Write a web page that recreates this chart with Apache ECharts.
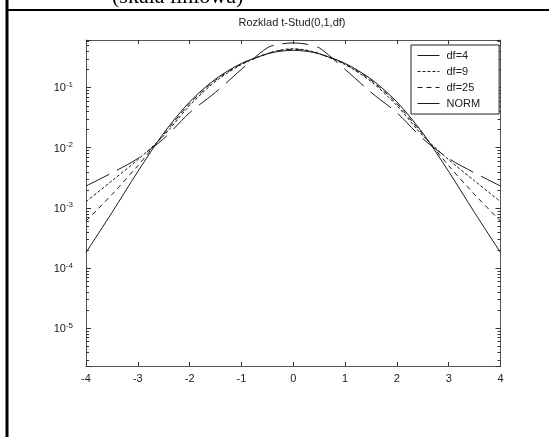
<!DOCTYPE html>
<html>
<head>
<meta charset="utf-8">
<script src="https://cdn.jsdelivr.net/npm/echarts@6/dist/echarts.min.js"></script>
<style>
  html, body { margin: 0; padding: 0; background: #fff; }
  #chart { width: 549px; height: 437px; }
</style>
</head>
<body>
<div id="chart"></div>
<script>
// punkty x
const xs = [-4, -3.5, -3, -2.5, -2, -1.5, -1, -0.5, -0.25, 0, 0.25, 0.5, 1, 1.5, 2, 2.5, 3, 3.5, 4]
const seriesNames = ['df=4', 'df=9', 'df=25', 'NORM']
const df4 = [0.0023, 0.0038, 0.0066, 0.0141, 0.038, 0.083, 0.20, 0.457, 0.525, 0.55, 0.525, 0.457, 0.20, 0.083, 0.038, 0.0141, 0.0066, 0.0038, 0.0023]
const df9 = [0.00126, 0.0028, 0.0063, 0.0158, 0.050, 0.126, 0.24, 0.365, 0.418, 0.44, 0.418, 0.365, 0.24, 0.126, 0.050, 0.0158, 0.0063, 0.0028, 0.00126]
const df25 = [0.0006, 0.00166, 0.0050, 0.0166, 0.0537, 0.132, 0.245, 0.365, 0.41, 0.43, 0.41, 0.365, 0.245, 0.132, 0.0537, 0.0166, 0.0050, 0.00166, 0.0006]
const norm = [0.00018, 0.00083, 0.0040, 0.0174, 0.0575, 0.138, 0.251, 0.362, 0.40, 0.415, 0.40, 0.362, 0.251, 0.138, 0.0575, 0.0174, 0.0040, 0.00083, 0.00018]

const xMin = -4, xMax = 4
const yMin = 2.34e-6, yMax = 0.615

const font = 'Liberation Sans, Arial, sans-serif'

// male kreski na osi log (2..9 * 10^k)
let minorTicks = []
for (let k = -6; k <= -1; k++) {
    for (let m = 2; m <= 9; m++) {
        let v = m * Math.pow(10, k)
        if (v > yMin && v < yMax) minorTicks.push(v)
    }
}

function lineSeries(name, values, dash) {
    return {
        name: name,
        type: 'line',
        data: xs.map((x, i) => [x, values[i]]),
        symbol: 'none',
        showSymbol: false,
        smooth: 0.3,
        lineStyle: { color: '#1a1a1a', width: 1, type: dash }
    }
}

function expLabel(v) {
    let e = Math.log10(v)
    let r = Math.round(e)
    if (Math.abs(e - r) > 1e-6) return ''
    return '{b|10}{s|' + r + '}'
}

let chart = echarts.init(document.getElementById('chart'))

let option = {
    animation: false,
    backgroundColor: '#fff',
    title: {
        text: 'Rozklad t-Stud(0,1,df)',
        left: 292,
        top: 17,
        padding: 0,
        textAlign: 'center',
        textStyle: { fontSize: 11, fontWeight: 'normal', color: '#222', fontFamily: font }
    },
    graphic: [
        { type: 'line', shape: { x1: 7, y1: 0, x2: 7, y2: 437 }, style: { stroke: '#000', lineWidth: 3 } },
        { type: 'line', shape: { x1: 6, y1: 10, x2: 549, y2: 10 }, style: { stroke: '#000', lineWidth: 2 } },
        {
            type: 'text', x: 112, y: 8,
            style: { text: '(skala liniowa)', font: '22px "Liberation Serif", "Times New Roman", serif', fill: '#000', align: 'left', verticalAlign: 'bottom' }
        }
    ],
    legend: {
        orient: 'vertical',
        left: 411,
        top: 45,
        padding: [5, 19, 5, 6],
        itemWidth: 22,
        itemHeight: 10,
        itemGap: 5,
        backgroundColor: '#fff',
        borderColor: '#222',
        borderWidth: 1,
        borderRadius: 0,
        selectedMode: false,
        itemStyle: { opacity: 0 },
        lineStyle: { width: 1 },
        textStyle: { fontSize: 11, color: '#222', fontFamily: font, padding: [0, 0, 0, 2] },
        data: seriesNames
    },
    grid: { left: 86, top: 40, right: 48.5, bottom: 71 },
    xAxis: [
        {
            type: 'value', min: xMin, max: xMax, interval: 1, position: 'bottom',
            axisLine: { onZero: false, lineStyle: { color: '#555' } },
            axisTick: { inside: true, length: 4, lineStyle: { color: '#333' } },
            axisLabel: { margin: 7, fontSize: 11, color: '#222', fontFamily: font },
            splitLine: { show: false }
        },
        {
            type: 'value', min: xMin, max: xMax, interval: 1, position: 'top',
            axisLine: { onZero: false, lineStyle: { color: '#555' } },
            axisTick: { inside: true, length: 4, lineStyle: { color: '#333' } },
            axisLabel: { show: false },
            splitLine: { show: false }
        }
    ],
    yAxis: [
        {
            type: 'log', logBase: 10, min: yMin, max: yMax, position: 'left',
            axisLine: { onZero: false, lineStyle: { color: '#555' } },
            axisTick: { inside: true, length: 5, lineStyle: { color: '#333' } },
            axisLabel: {
                margin: 13,
                formatter: expLabel,
                rich: {
                    b: { fontSize: 11, color: '#222', fontFamily: font, verticalAlign: 'bottom' },
                    s: { fontSize: 8, color: '#222', fontFamily: font, verticalAlign: 'bottom', padding: [0, 0, 5, 0] }
                }
            },
            splitLine: { show: false }
        },
        {
            type: 'log', logBase: 10, min: yMin, max: yMax, position: 'right',
            axisLine: { onZero: false, lineStyle: { color: '#555' } },
            axisTick: { inside: true, length: 5, lineStyle: { color: '#333' } },
            axisLabel: { show: false },
            splitLine: { show: false }
        }
    ],
    series: [
        lineSeries('df=4', df4, [26, 9]),
        lineSeries('df=9', df9, [3, 2]),
        lineSeries('df=25', df25, [5, 4]),
        lineSeries('NORM', norm, 'solid'),
        {
            // male kreski po lewej i prawej
            type: 'custom',
            silent: true,
            clip: false,
            data: minorTicks.map(v => [xMin, v, 1]).concat(minorTicks.map(v => [xMax, v, -1])),
            renderItem: function (params, api) {
                let p = api.coord([api.value(0), api.value(1)])
                let d = api.value(2)
                return {
                    type: 'line',
                    shape: { x1: p[0], y1: Math.round(p[1]) + 0.5, x2: p[0] + d * 3, y2: Math.round(p[1]) + 0.5 },
                    style: { stroke: '#333', lineWidth: 1 }
                }
            }
        }
    ]
}

chart.setOption(option)
</script>
</body>
</html>
